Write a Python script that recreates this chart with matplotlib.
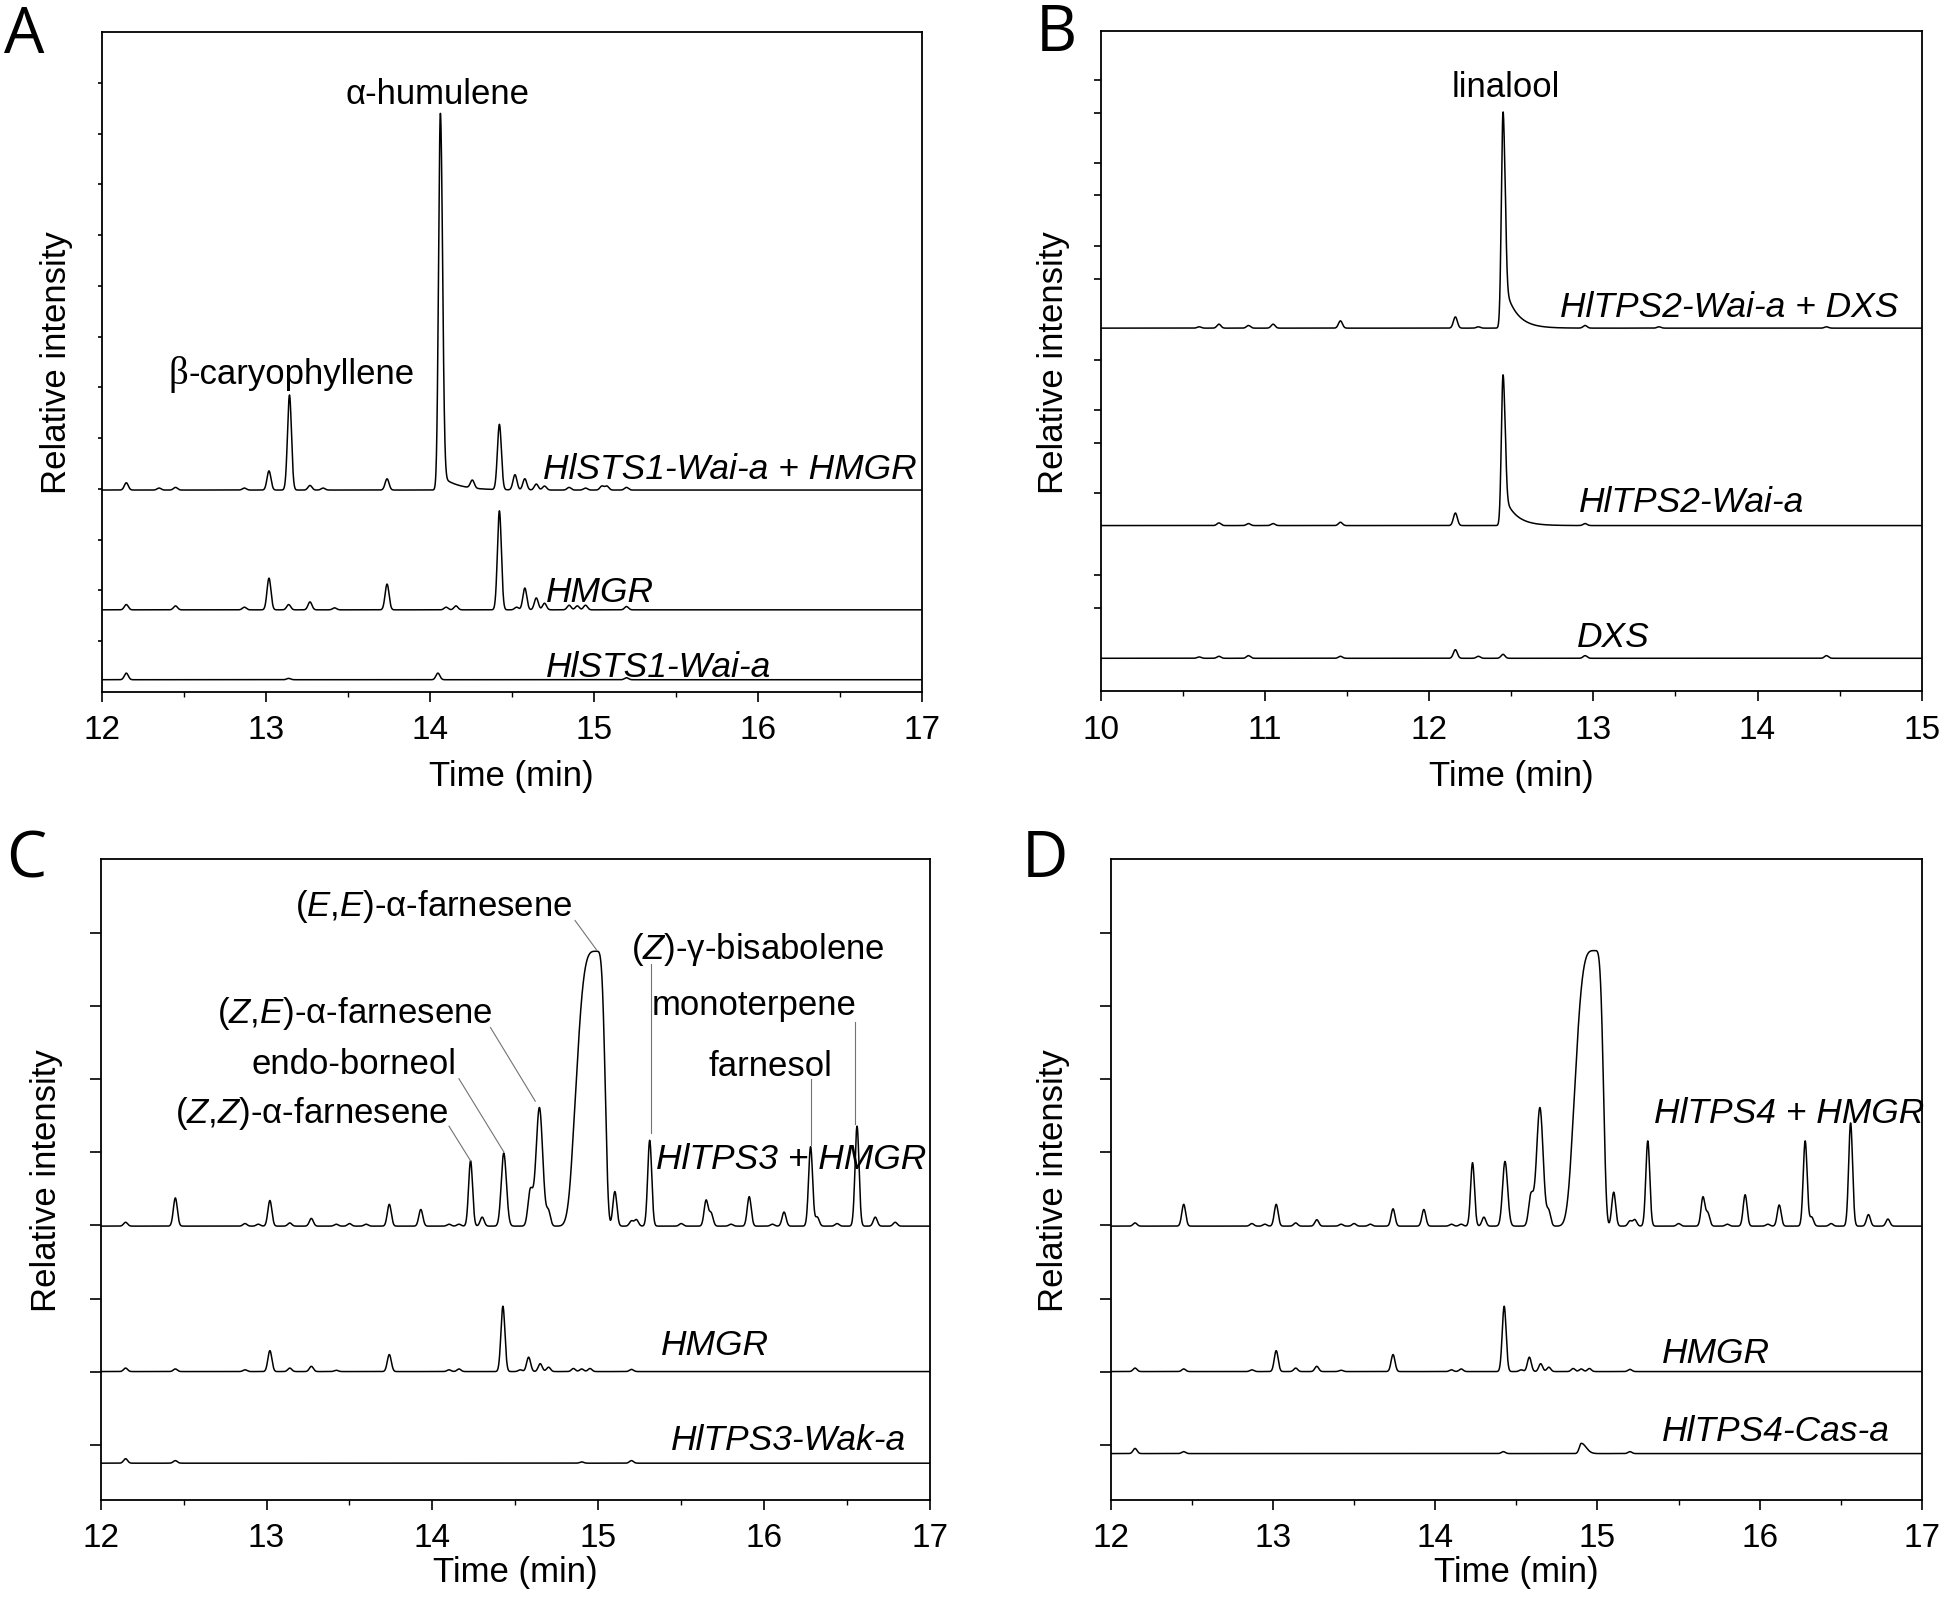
import numpy as np
import matplotlib
matplotlib.use('Agg')
import matplotlib.pyplot as plt

plt.rcParams['font.family'] = ['Liberation Sans', 'DejaVu Sans']
plt.rcParams['mathtext.fontset'] = 'custom'
plt.rcParams['mathtext.rm'] = 'Liberation Sans'
plt.rcParams['mathtext.it'] = 'Liberation Sans:italic'

# ---- peak tables (retention time in min, height in axis fraction) ----
SIG = 0.012  # default peak sigma (min)

# panel A : HlSTS1-Wai-a + HMGR / HMGR / HlSTS1-Wai-a
a1_rt = [12.15, 12.35, 12.45, 12.87, 13.02, 13.145, 13.27, 13.35, 13.74, 14.26,
         14.425, 14.52, 14.58, 14.65, 14.70, 14.85, 14.95, 15.05, 15.08, 15.20]
a1_h = [0.011, 0.003, 0.004, 0.003, 0.029, 0.144, 0.007, 0.003, 0.017, 0.012,
        0.099, 0.023, 0.017, 0.009, 0.006, 0.004, 0.003, 0.006, 0.006, 0.004]
a1_shaped = [(14.065, 0.565, 0.011, 0.013, 2), (14.075, 0.02, 0.004, 0.05, 1)]

hmgr_rt = [12.15, 12.45, 12.87, 13.02, 13.14, 13.27, 13.42, 13.74, 14.10, 14.16,
           14.425, 14.53, 14.58, 14.65, 14.70, 14.85, 14.90, 14.95, 15.20]
hmgr_h = [0.008, 0.006, 0.004, 0.048, 0.008, 0.012, 0.003, 0.039, 0.004, 0.006,
          0.150, 0.004, 0.033, 0.018, 0.010, 0.007, 0.006, 0.007, 0.005]

a3_rt = [12.15, 13.14, 14.05, 15.20]
a3_h = [0.010, 0.002, 0.010, 0.003]

a_base = [0.306, 0.1245, 0.0186]
a_labels = ['HlSTS1-Wai-a + HMGR', 'HMGR', 'HlSTS1-Wai-a']
a_label_x = [14.69, 14.71, 14.71]
a_label_y = [0.339, 0.152, 0.039]

# panel B : HlTPS2-Wai-a + DXS / HlTPS2-Wai-a / DXS
b1_rt = [10.60, 10.72, 10.90, 11.05, 11.46, 12.16, 12.30, 12.95, 13.40, 14.42]
b1_h = [0.002, 0.006, 0.004, 0.006, 0.011, 0.017, 0.002, 0.004, 0.002, 0.002]
b1_shaped = [(12.45, 0.318, 0.010, 0.012, 2), (12.465, 0.06, 0.004, 0.035, 1)]

b2_rt = [10.72, 10.90, 11.05, 11.46, 12.16, 12.95]
b2_h = [0.004, 0.003, 0.003, 0.005, 0.019, 0.003]
b2_shaped = [(12.45, 0.222, 0.010, 0.012, 2), (12.465, 0.04, 0.004, 0.035, 1)]

b3_rt = [10.60, 10.72, 10.90, 11.46, 12.16, 12.30, 12.45, 12.95, 14.42]
b3_h = [0.002, 0.003, 0.004, 0.003, 0.013, 0.003, 0.006, 0.004, 0.004]

b_base = [0.550, 0.251, 0.050]
b_labels = ['HlTPS2-Wai-a + DXS', 'HlTPS2-Wai-a', 'DXS']
b_label_x = [12.80, 12.91, 12.90]
b_label_y = [0.583, 0.288, 0.083]
b_yticks = [0.126, 0.176, 0.300, 0.376, 0.426, 0.502, 0.624, 0.674, 0.751, 0.800, 0.876, 0.926]

# panel C : HlTPS3 + HMGR / HMGR / HlTPS3-Wak-a
c1_rt = [12.15, 12.45, 12.87, 12.95, 13.02, 13.14, 13.27, 13.42, 13.50, 13.60,
         13.74, 13.93, 14.10, 14.16, 14.23, 14.30, 14.70, 14.85, 15.10,
         15.20, 15.23, 15.31, 15.50, 15.65, 15.68, 15.80, 15.91, 16.05, 16.12,
         16.28, 16.32, 16.44, 16.56, 16.67, 16.79]
c1_h = [0.006, 0.044, 0.004, 0.003, 0.040, 0.005, 0.012, 0.003, 0.004, 0.003,
        0.034, 0.026, 0.003, 0.003, 0.102, 0.014, 0.022, 0.006, 0.054,
        0.008, 0.010, 0.134, 0.004, 0.040, 0.020, 0.003, 0.046, 0.003, 0.022,
        0.124, 0.014, 0.004, 0.156, 0.014, 0.006]
c1_shaped = [(14.43, 0.114, 0.015, 0.016, 2), (14.59, 0.055, 0.014, 0.016, 2),
             (14.645, 0.185, 0.02, 0.02, 2), (14.99, 0.429, 0.115, 0.048, 4)]

c3_rt = [12.15, 12.45, 14.90, 15.20]
c3_h = [0.007, 0.004, 0.002, 0.004]

cd_hmgr_scale = 0.68
c_base = [0.427, 0.200, 0.057]
c_labels = ['HlTPS3 + HMGR', 'HMGR', 'HlTPS3-Wak-a']
c_label_x = [15.35, 15.38, 15.44]
c_label_y = [0.533, 0.242, 0.094]

c_names = [r'($\mathit{E}$,$\mathit{E}$)-α-farnesene', r'($\mathit{Z}$)-γ-bisabolene', 'monoterpene',
           'farnesol', r'($\mathit{Z}$,$\mathit{E}$)-α-farnesene', 'endo-borneol',
           r'($\mathit{Z}$,$\mathit{Z}$)-α-farnesene']
c_name_xy = [(14.01, 0.928), (15.96, 0.860), (15.94, 0.773), (16.04, 0.677),
             (13.53, 0.760), (13.53, 0.681), (13.27, 0.605)]
c_leader_from = [(14.86, 0.904), (15.32, 0.836), (16.55, 0.745), (16.28, 0.657),
                 (14.35, 0.737), (14.16, 0.657), (14.10, 0.583)]
c_leader_to = [(14.99, 0.858), (15.32, 0.573), (16.55, 0.587), (16.28, 0.553),
               (14.62, 0.622), (14.43, 0.543), (14.23, 0.529)]

# panel D : HlTPS4 + HMGR / HMGR / HlTPS4-Cas-a
d1_rt = c1_rt
d1_h = [0.005, 0.034, 0.004, 0.003, 0.034, 0.005, 0.010, 0.003, 0.004, 0.003,
        0.027, 0.026, 0.003, 0.003, 0.099, 0.014, 0.022, 0.006, 0.053,
        0.008, 0.010, 0.133, 0.004, 0.045, 0.020, 0.003, 0.049, 0.003, 0.033,
        0.133, 0.014, 0.004, 0.161, 0.018, 0.011]
d1_shaped = [(14.43, 0.101, 0.015, 0.016, 2), (14.59, 0.048, 0.014, 0.016, 2),
             (14.645, 0.185, 0.02, 0.02, 2), (14.985, 0.43, 0.115, 0.048, 4)]

d3_rt = [12.15, 12.45, 14.42, 15.20]
d3_h = [0.008, 0.003, 0.003, 0.003]
d3_shaped = [(14.90, 0.016, 0.012, 0.03, 2)]

d_base = [0.427, 0.200, 0.072]
d_labels = ['HlTPS4 + HMGR', 'HMGR', 'HlTPS4-Cas-a']
d_label_x = [15.35, 15.40, 15.40]
d_label_y = [0.604, 0.229, 0.108]

cd_yticks = [0.086 + 0.114 * k for k in range(8)]


def chrom(t, rt, h, shaped=(), scale=1.0):
    y = np.zeros_like(t)
    for r, a in zip(rt, h):
        y += a * np.exp(-0.5 * ((t - r) / SIG) ** 2)
    for r, a, wl, wr, p in shaped:
        d = t - r
        s = np.where(d < 0, wl, wr)
        y += a * np.exp(-0.5 * np.abs(d / s) ** p)
    return y * scale


W, H = 1944, 1608
fig = plt.figure(figsize=(W / 100, H / 100), dpi=100)


def make_ax(left, top, right, bottom):
    return fig.add_axes([left / W, 1 - bottom / H, (right - left) / W, (bottom - top) / H])


def style(ax, xlim, yticks, ylen, ylab_x, xlab_y):
    ax.set_xlim(*xlim)
    ax.set_ylim(0, 1)
    ax.set_xticks(np.arange(xlim[0], xlim[1] + 1))
    ax.set_xticks(np.arange(xlim[0], xlim[1] + 0.01, 0.5), minor=True)
    ax.set_yticks(yticks)
    ax.tick_params(axis='x', which='major', direction='out', length=7.2, width=1.2,
                   labelsize=24, pad=9)
    ax.tick_params(axis='x', which='minor', direction='out', length=3.6, width=1.0)
    ax.tick_params(axis='y', direction='out', length=ylen, width=1.2, labelleft=False)
    for sp in ax.spines.values():
        sp.set_linewidth(1.3)
    ax.set_ylabel('Relative intensity', fontsize=25)
    ax.yaxis.set_label_coords(ylab_x, 0.5)
    ax.set_xlabel('Time (min)', fontsize=25)
    ax.xaxis.set_label_coords(0.5, xlab_y)


def draw(ax, t, ys, bases, labels, lx, ly):
    for y, b in zip(ys, bases):
        ax.plot(t, y + b, color='black', lw=1.1)
    for s, x, yy in zip(labels, lx, ly):
        ax.text(x, yy, s, fontsize=25.5, style='italic', ha='left', va='center')


# ---- A ----
axA = make_ax(101.7, 33, 921.7, 693)
tA = np.linspace(12, 17, 5001)
draw(axA, tA, [chrom(tA, a1_rt, a1_h, a1_shaped), chrom(tA, hmgr_rt, hmgr_h), chrom(tA, a3_rt, a3_h)],
     a_base, a_labels, a_label_x, a_label_y)
axA.text(14.05, 0.907, 'α-humulene', fontsize=25, ha='center', va='center')
axA.text(12.53, 0.482, '-caryophyllene', fontsize=25, ha='left', va='center')
axA.text(12.53, 0.482, 'β', fontsize=28, family='Liberation Serif', ha='right', va='center')
style(axA, (12, 17), [k / 13 for k in range(1, 13)], 3.0, -0.035, -0.102)

# ---- B ----
axB = make_ax(1100.7, 32, 1921.7, 692.3)
tB = np.linspace(10, 15, 5001)
draw(axB, tB, [chrom(tB, b1_rt, b1_h, b1_shaped), chrom(tB, b2_rt, b2_h, b2_shaped), chrom(tB, b3_rt, b3_h)],
     b_base, b_labels, b_label_x, b_label_y)
axB.text(12.47, 0.916, 'linalool', fontsize=25, ha='center', va='center')
style(axB, (10, 15), b_yticks, 4.8, -0.038, -0.102)

# ---- C ----
axC = make_ax(100.7, 860, 930, 1500.7)
tC = np.linspace(12, 17, 5001)
draw(axC, tC, [chrom(tC, c1_rt, c1_h, c1_shaped), chrom(tC, hmgr_rt, hmgr_h, scale=cd_hmgr_scale),
               chrom(tC, c3_rt, c3_h)],
     c_base, c_labels, c_label_x, c_label_y)
for name, xy, p0, p1 in zip(c_names, c_name_xy, c_leader_from, c_leader_to):
    axC.text(xy[0], xy[1], name, fontsize=25, ha='center', va='center')
    axC.plot([p0[0], p1[0]], [p0[1], p1[1]], color='0.45', lw=0.8)
style(axC, (12, 17), cd_yticks, 8.0, -0.046, -0.086)

# ---- D ----
axD = make_ax(1110.7, 860, 1922, 1500.7)
tD = np.linspace(12, 17, 5001)
draw(axD, tD, [chrom(tD, d1_rt, d1_h, d1_shaped), chrom(tD, hmgr_rt, hmgr_h, scale=cd_hmgr_scale),
               chrom(tD, d3_rt, d3_h, d3_shaped)],
     d_base, d_labels, d_label_x, d_label_y)
style(axD, (12, 17), cd_yticks, 8.0, -0.05, -0.086)

# panel letters
for s, x, y in [('A', 4, 4), ('B', 1036, 2), ('C', 6, 828), ('D', 1022, 828)]:
    fig.text(x / W, 1 - y / H, s, fontsize=46, family='Open Sans', ha='left', va='top')

fig.savefig('out.png', dpi=100)
